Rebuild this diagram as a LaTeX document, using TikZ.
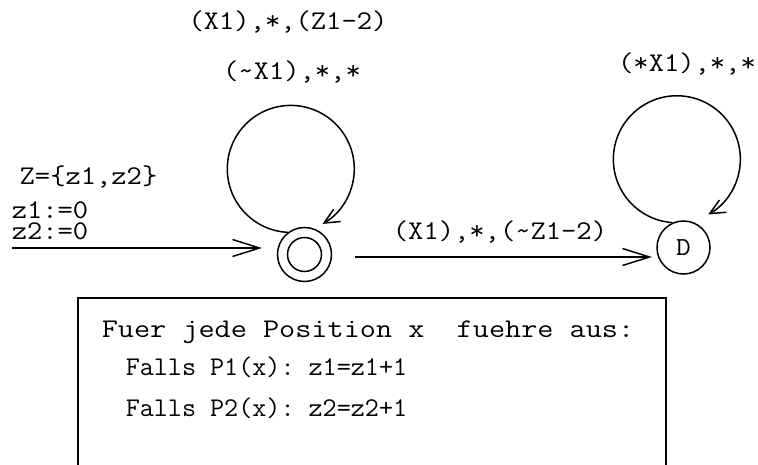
\documentclass[tikz,border=0pt]{standalone}
\usepackage{fontspec}
\setmonofont[FakeStretch=1.1]{Latin Modern Mono}
\usetikzlibrary{arrows.meta,calc}
\begin{document}
\begin{tikzpicture}[x=1pt,y=1pt,line width=1.5pt,
  lbl/.style={font=\ttfamily\fontsize{27}{27}\selectfont,inner sep=0pt,anchor=base,text height=0.55em,text depth=0pt},
  boxtxt/.style={font=\ttfamily\fontsize{27}{27}\selectfont,inner sep=0pt,anchor=base west,text height=0.55em,text depth=0pt},
  state/.style={circle,draw,inner sep=0pt,font=\ttfamily\fontsize{26}{26}\selectfont},
  bigarr/.style={-{Straight Barb[length=27pt,width=17pt]}},
  looparr/.style={-{Straight Barb[length=15pt,width=14pt]}}]
\useasboundingbox (0,0) rectangle (758,464);

% states
\node[state,minimum size=54pt] (s1) at (304.5,209.5) {};
\node[state,minimum size=34pt] (s1in) at (s1.center) {};
\node[state,minimum size=53pt] (D) at (683.5,216.5) {D};

% loops
\draw[looparr] (s1.127) arc[start angle=-92.7,end angle=-420,radius=63.5pt];
\draw[looparr] (D.114) arc[start angle=-94,end angle=-420.4,radius=63.5pt];

% entry and transition
\coordinate (start) at (12,216);
\draw[bigarr] (start) -- ($(s1.center)+(-42.5,6.5)$);
\draw[bigarr] ($(s1.center)+(50.5,-2.5)$) -- ($(D.center)+(-31.5,-9.5)$);

% labels
\node[lbl] (t1) at (288,434) {(X1),*,(Z1-2)};
\node[lbl] (t2) at (292,384) {(\textasciitilde X1),*,*};
\node[lbl] (t3) at (687,392) {(*X1),*,*};
\node[lbl] (t4) at (500,224) {(X1),*,(\textasciitilde Z1-2)};
\node[lbl] (t5) at (88.5,279) {Z=\{z1,z2\}};
\node[lbl] (t6) at (50,245.5) {z1:=0};
\node[lbl] (t7) at (50,224.5) {z2:=0};

% box
\draw (78,-2) -- (78,166) -- (666,166) -- (666,-2);
\node[boxtxt] (b1) at (101,126) {\scalebox{1.055}[1]{Fuer jede Position x\ \ fuehre aus:}};
\node[boxtxt] (b2) at (125,89) {\scalebox{0.92}[1]{Falls P1(x): z1=z1+1}};
\node[boxtxt] (b3) at (125,48) {\scalebox{0.92}[1]{Falls P2(x): z2=z2+1}};
\end{tikzpicture}
\end{document}
